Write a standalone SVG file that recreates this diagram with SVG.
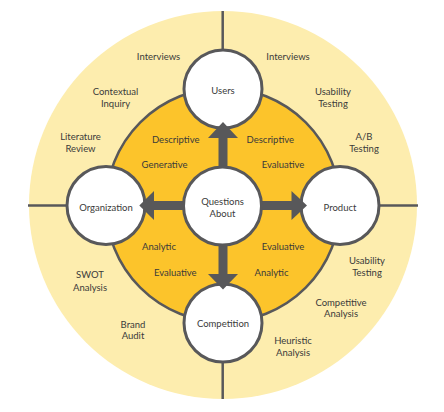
<svg xmlns="http://www.w3.org/2000/svg" width="444" height="412" viewBox="0 0 444 412">
<style>
.t{font-family:Lato,"Open Sans","Liberation Sans",sans-serif;font-size:9.5px;fill:#3a3a3a;text-anchor:middle;dominant-baseline:central}
.node{fill:#fff;stroke:#58585a;stroke-width:3}
.bar{stroke:#58585a;stroke-width:9}
.head{fill:#58585a}
</style>
<rect width="444" height="412" fill="#fff"/>
<g id="background">
<circle cx="223" cy="205" r="194" fill="#fdedae"/>
<line x1="28" y1="205.5" x2="418" y2="205.5" stroke="#58585a" stroke-width="2.5"/>
<line x1="222.7" y1="11" x2="222.7" y2="399" stroke="#58585a" stroke-width="2.5"/>
<circle cx="223" cy="205" r="117" fill="#fcc42b" stroke="#58585a" stroke-width="2.5"/>
</g>
<g id="outer-labels">
<text class="t" x="158.5" y="56">Interviews</text>
<text class="t" x="115.5" y="91">Contextual</text>
<text class="t" x="115.5" y="103">Inquiry</text>
<text class="t" x="80.5" y="136">Literature</text>
<text class="t" x="80.5" y="148">Review</text>
<text class="t" x="288" y="56">Interviews</text>
<text class="t" x="333" y="91">Usability</text>
<text class="t" x="333" y="103">Testing</text>
<text class="t" x="364" y="136">A/B</text>
<text class="t" x="364" y="148">Testing</text>
<text class="t" x="90" y="274">SWOT</text>
<text class="t" x="90" y="287">Analysis</text>
<text class="t" x="133" y="324">Brand</text>
<text class="t" x="133" y="335.5">Audit</text>
<text class="t" x="367" y="260">Usability</text>
<text class="t" x="367" y="272.5">Testing</text>
<text class="t" x="341" y="302">Competitive</text>
<text class="t" x="341" y="313.5">Analysis</text>
<text class="t" x="293" y="340">Heuristic</text>
<text class="t" x="293" y="352.5">Analysis</text>
</g>
<g id="inner-labels">
<text class="t" x="175.7" y="139">Descriptive</text>
<text class="t" x="164.5" y="164">Generative</text>
<text class="t" x="270.3" y="139">Descriptive</text>
<text class="t" x="283" y="164">Evaluative</text>
<text class="t" x="159" y="246.5">Analytic</text>
<text class="t" x="175.3" y="272.5">Evaluative</text>
<text class="t" x="283" y="246.5">Evaluative</text>
<text class="t" x="271.5" y="272.5">Analytic</text>
</g>
<g id="users"><circle class="node" cx="223" cy="89" r="39"/><text class="t" x="223" y="90">Users</text></g>
<g id="organization"><circle class="node" cx="106" cy="205.5" r="39"/><text class="t" x="106" y="207">Organization</text></g>
<g id="product"><circle class="node" cx="340" cy="205.5" r="39"/><text class="t" x="340" y="207">Product</text></g>
<g id="competition"><circle class="node" cx="223" cy="323" r="39"/><text class="t" x="223" y="323.5">Competition</text></g>
<g id="connectors">
<line class="bar" x1="223" y1="170" x2="223" y2="136"/>
<polygon class="head" points="223,122 238,138 208,138"/>
<line class="bar" x1="258" y1="205.5" x2="293" y2="205.5"/>
<polygon class="head" points="307,205.5 291.5,191 291.5,220"/>
<line class="bar" x1="188" y1="205.5" x2="152" y2="205.5"/>
<polygon class="head" points="139.3,205.5 154,191 154,220"/>
<line class="bar" x1="223" y1="240" x2="223" y2="276"/>
<polygon class="head" points="223,289.5 208,274 238,274"/>
</g>
<g id="questions-about"><circle class="node" cx="222.5" cy="206" r="39"/><text class="t" x="222.5" y="201">Questions</text><text class="t" x="222.5" y="213">About</text></g>
</svg>
